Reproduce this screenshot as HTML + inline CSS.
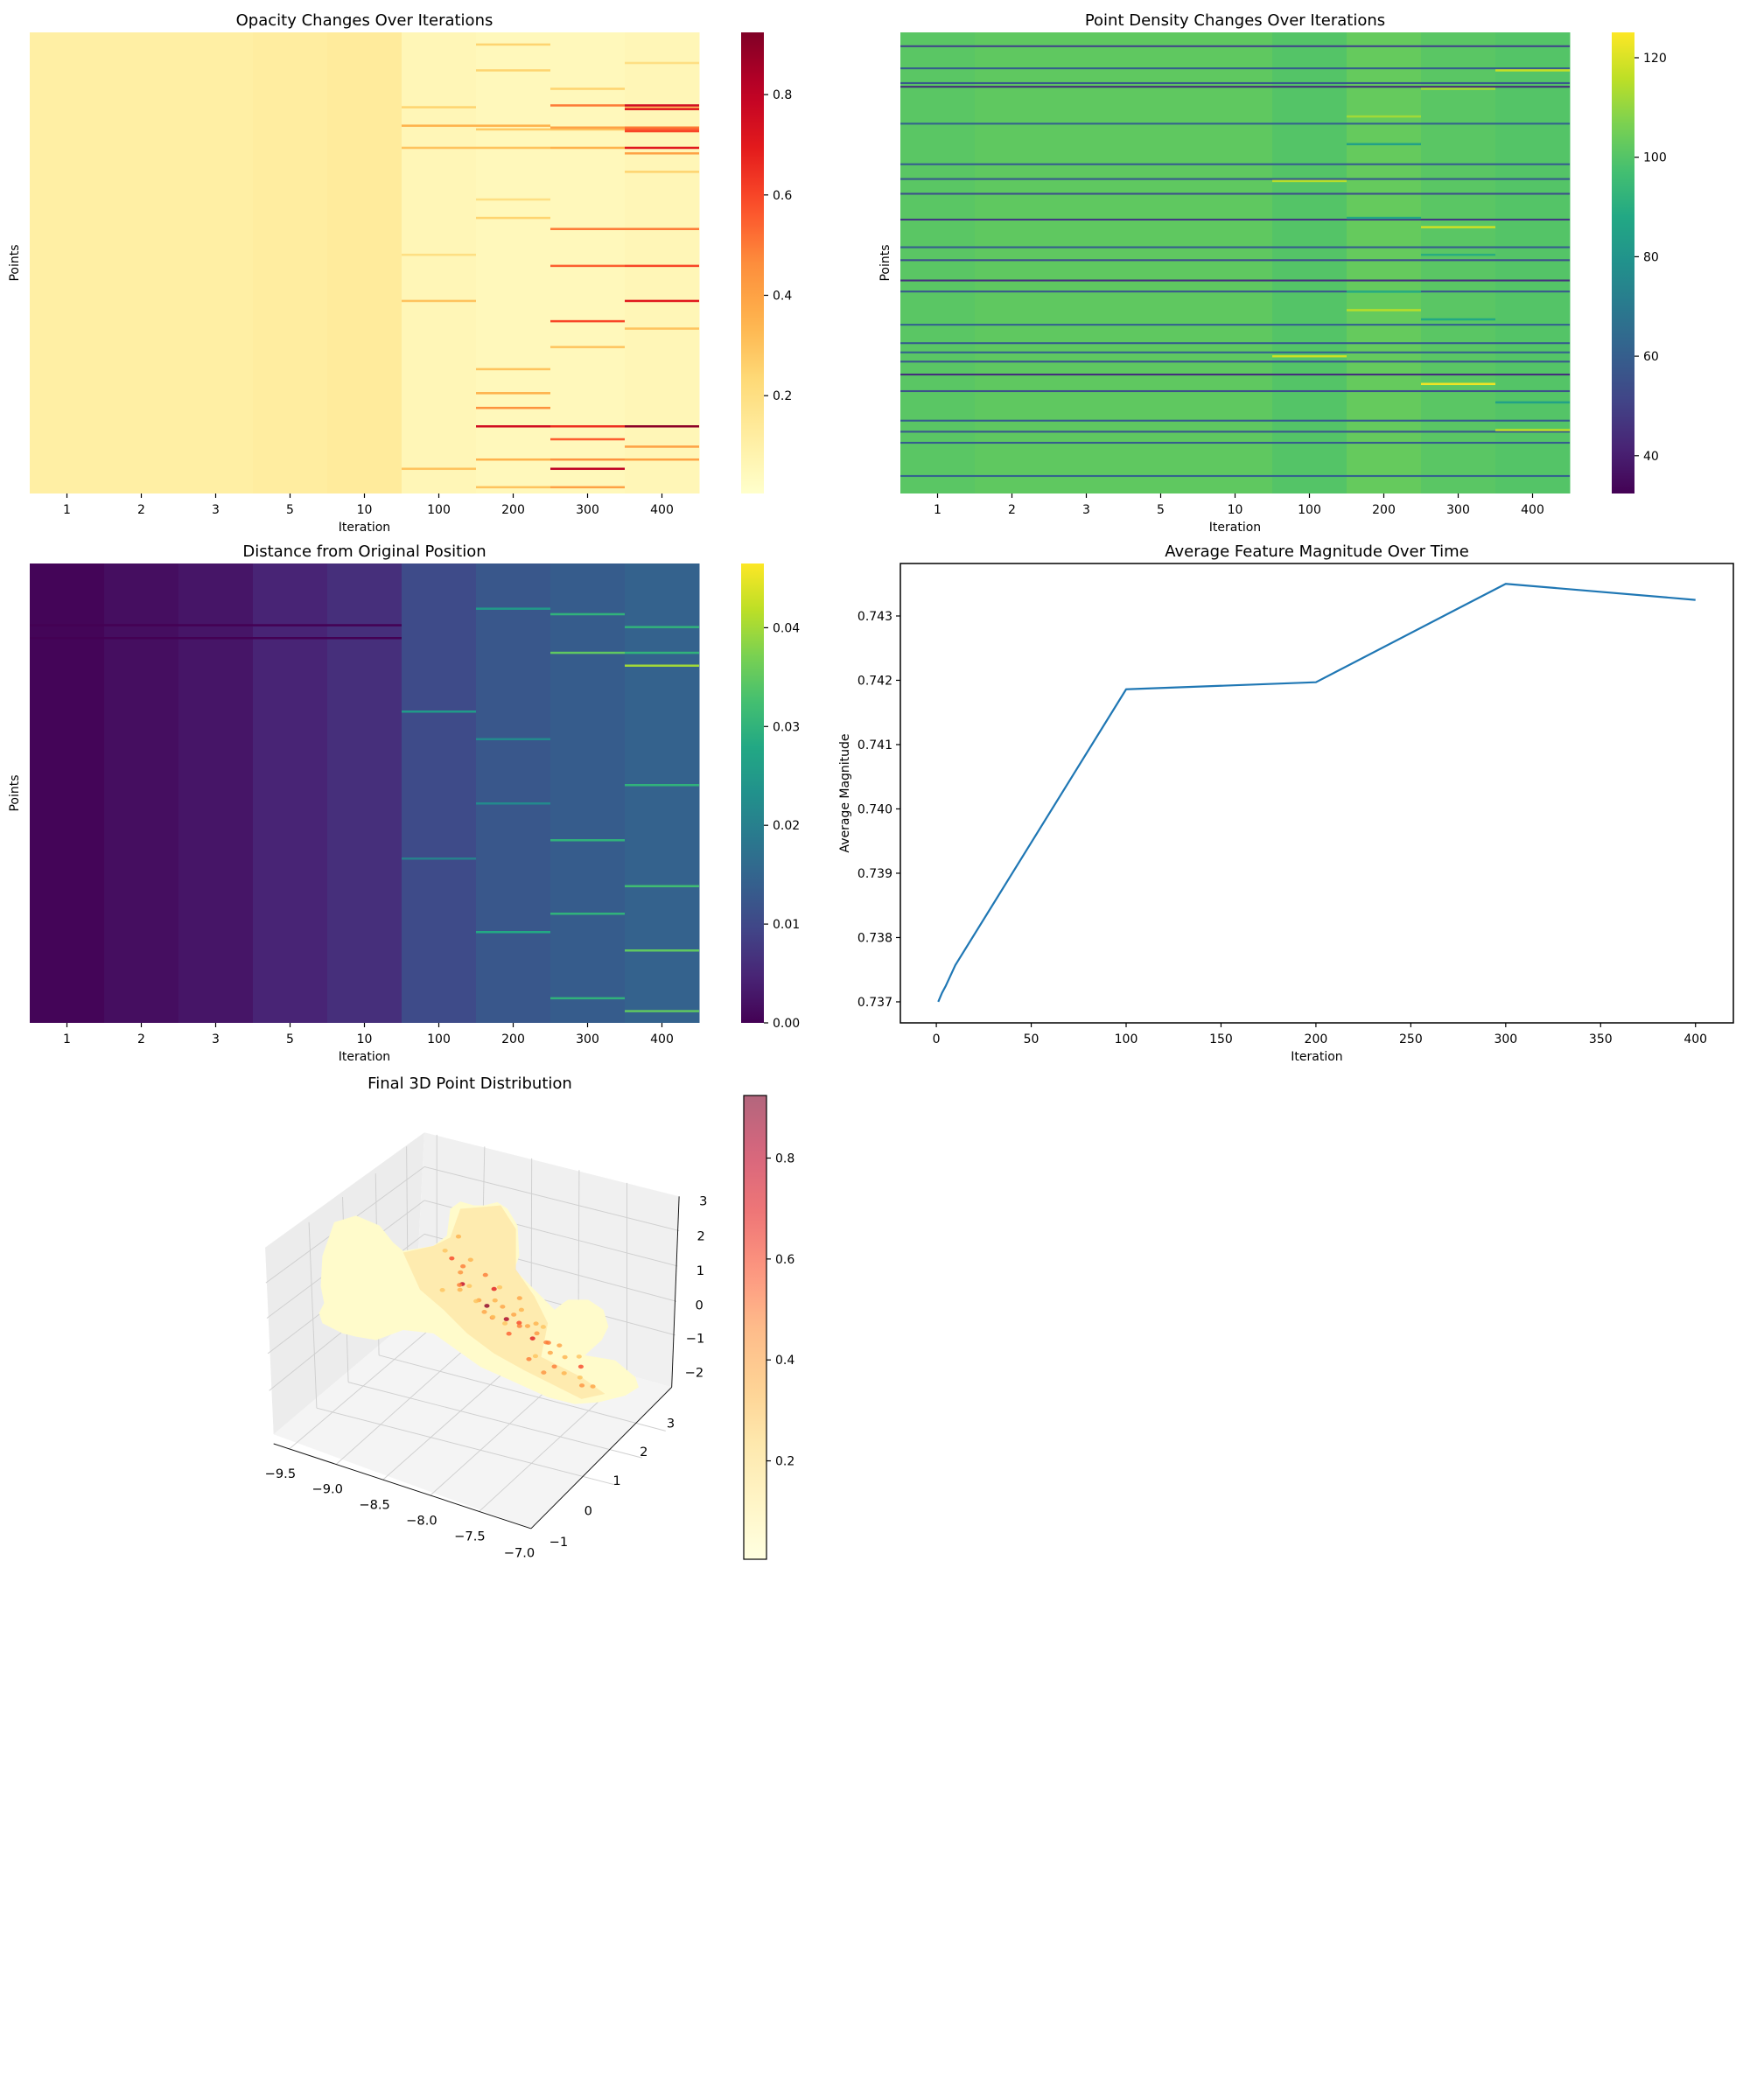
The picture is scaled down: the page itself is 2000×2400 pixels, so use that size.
<!DOCTYPE html>
<html><head><meta charset="utf-8"><style>
html,body{margin:0;padding:0;background:#fff}
svg{display:block}
text{font-family:"DejaVu Sans","Liberation Sans",sans-serif;fill:#000}
</style></head><body>
<svg id="fig" width="2000" height="2400" viewBox="0 0 2000 2400" xmlns="http://www.w3.org/2000/svg">
<defs>
<linearGradient id="gYlOrRd" x1="0" y1="1" x2="0" y2="0"></linearGradient>
<linearGradient id="gVir2" x1="0" y1="1" x2="0" y2="0"></linearGradient>
<linearGradient id="gVir3" x1="0" y1="1" x2="0" y2="0"></linearGradient>
<linearGradient id="gYlOrRdA" x1="0" y1="1" x2="0" y2="0"></linearGradient>
</defs>
<g id="hm1"></g>
<g id="hm2"></g>
<g id="hm3"></g>
<g id="line"></g>
<g id="p3d" transform="translate(280,1220) scale(0.3846)">
  <polygon points="533,193 60,535 85,1090 505,735" fill="#ececec"/>
  <polygon points="533,193 1290,383 1268,950 505,735" fill="#f0f0f0"/>
  <polygon points="85,1090 505,735 1268,950 850,1370" fill="#f4f4f4"/>
  <g stroke="#cfcfcf" stroke-width="2.5" fill="none">
    <line x1="190" y1="460" x2="213" y2="1012"/><line x1="290" y1="385" x2="307" y2="935"/><line x1="388" y1="315" x2="398" y2="855"/><line x1="480" y1="235" x2="485" y2="770"/>
    <line x1="213" y1="1012" x2="1100" y2="1240"/><line x1="307" y1="935" x2="1180" y2="1160"/><line x1="398" y1="855" x2="1250" y2="1080"/>
    <line x1="130" y1="1135" x2="570" y2="760"/><line x1="270" y1="1180" x2="700" y2="795"/><line x1="410" y1="1225" x2="850" y2="835"/><line x1="550" y1="1272" x2="990" y2="875"/><line x1="695" y1="1320" x2="1135" y2="915"/>
    <line x1="570" y1="200" x2="570" y2="760"/><line x1="712" y1="235" x2="700" y2="795"/><line x1="852" y1="270" x2="850" y2="835"/><line x1="993" y1="305" x2="990" y2="875"/><line x1="1135" y1="343" x2="1135" y2="915"/>
    <line x1="533" y1="295" x2="1290" y2="485"/><line x1="533" y1="395" x2="1285" y2="590"/><line x1="533" y1="495" x2="1282" y2="695"/><line x1="533" y1="595" x2="1278" y2="795"/>
    <line x1="533" y1="295" x2="62" y2="640"/><line x1="533" y1="395" x2="65" y2="745"/><line x1="533" y1="495" x2="68" y2="850"/><line x1="525" y1="595" x2="72" y2="960"/>
  </g>
  <g stroke="#111" stroke-width="2.5" fill="none">
    <line x1="85" y1="1118" x2="850" y2="1370"/><line x1="850" y1="1370" x2="1268" y2="950"/><line x1="1290" y1="383" x2="1268" y2="950"/>
  </g>
  <path fill="#fffbcb" d="M265,460 L330,440 L400,470 L440,520 L470,545 L560,530 L600,500 L610,420 L640,398 L680,410 L710,410 L750,400 L780,420 L810,470 L815,560 L800,600 L860,660 L920,720 L945,700 L960,690 L1020,690 L1065,720 L1080,770 L1060,810 L1010,855 L1100,870 L1160,920 L1170,950 L1130,975 L1050,995 L980,1000 L900,980 L790,930 L700,890 L630,840 L560,790 L470,780 L390,810 L330,800 L290,790 L230,760 L220,730 L235,700 L225,650 L230,560 Z"/>
  <path fill="#fde6a6" opacity="0.75" d="M470,550 L560,530 L610,505 L640,420 L760,410 L805,480 L805,600 L860,680 L900,760 L880,860 L1000,920 L1070,970 L1000,985 L930,950 L830,900 L740,850 L660,790 L590,720 L520,660 Z"/>
  <g id="dots3d"></g>
  <g font-size="38">
    <text x="105" y="1220" text-anchor="middle">−9.5</text><text x="245" y="1265" text-anchor="middle">−9.0</text><text x="385" y="1312" text-anchor="middle">−8.5</text><text x="525" y="1358" text-anchor="middle">−8.0</text><text x="668" y="1405" text-anchor="middle">−7.5</text><text x="815" y="1455" text-anchor="middle">−7.0</text>
    <text x="1265" y="1070" text-anchor="middle">3</text><text x="1185" y="1155" text-anchor="middle">2</text><text x="1105" y="1240" text-anchor="middle">1</text><text x="1020" y="1330" text-anchor="middle">0</text><text x="932" y="1422" text-anchor="middle">−1</text>
    <text x="1362" y="410" text-anchor="middle">3</text><text x="1355" y="513" text-anchor="middle">2</text><text x="1353" y="616" text-anchor="middle">1</text><text x="1350" y="719" text-anchor="middle">0</text><text x="1338" y="818" text-anchor="middle">−1</text><text x="1335" y="919" text-anchor="middle">−2</text>
  </g>
</g>
<text x="537" y="1244" font-size="18" text-anchor="middle">Final 3D Point Distribution</text>
<g id="cb4"></g>
</svg>
<script>
// ---------- data ----------
const iterLabels = ["1","2","3","5","10","100","200","300","400"];
const opacityBase = [0.11,0.11,0.11,0.12,0.13,0.06,0.05,0.05,0.06];
const opacityStripes = [[6,6,0.25],[16,8,0.2],[40,5,0.25],[40,8,0.3],[52,6,0.28],[52,7,0.3],[39,7,0.5],[39,8,0.75],[41,8,0.7],[50,5,0.35],[50,6,0.35],[51,7,0.4],[51,8,0.5],[52,8,0.55],[53,8,0.6],[62,5,0.3],[62,6,0.3],[62,7,0.35],[62,8,0.7],[65,8,0.4],[100,6,0.25],[106,7,0.5],[106,8,0.5],[126,7,0.55],[126,8,0.6],[145,5,0.3],[145,8,0.7],[156,7,0.6],[182,6,0.3],[195,6,0.35],[203,6,0.45],[213,6,0.75],[213,7,0.65],[213,8,0.9],[220,7,0.55],[224,8,0.4],[231,6,0.35],[231,7,0.45],[231,8,0.4],[236,7,0.8],[236,5,0.3],[246,6,0.3],[246,7,0.4],[120,5,0.2],[170,7,0.3],[75,8,0.25],[90,6,0.2],[160,8,0.3],[20,6,0.25],[30,7,0.25]];
const densityBase = [101,102,102,102,102,100,103,101,100];
const densityDarkRows = [7,19,27,29,49,71,79,87,101,116,123,134,140,158,168,173,178,185,194,210,216,222,240];
const densityDarkValue = [52,60,58,45,62,60,58,55,48,60,55,46,58,62,60,62,58,45,55,60,58,60,62];
const densityStripes = [[20,8,117],[45,6,112],[60,6,85],[80,5,115],[100,6,88],[105,7,118],[150,6,115],[155,7,88],[175,5,118],[190,7,123],[200,8,85],[215,8,116],[30,7,112],[120,7,90],[140,6,90]];
const distBase = [0.0005,0.0017,0.0027,0.0047,0.0062,0.0105,0.0125,0.0135,0.0145];
const distStripes = [[33,0,0.0],[33,1,0.0],[33,2,0.0],[33,3,0.0],[33,4,0.0],[40,0,0.0],[40,1,0.0],[40,2,0.0],[40,3,0.0],[40,4,0.0],[24,6,0.025],[27,7,0.03],[34,8,0.03],[48,7,0.035],[48,8,0.03],[55,8,0.04],[80,5,0.025],[95,6,0.022],[120,8,0.03],[130,6,0.022],[150,7,0.03],[175,8,0.032],[190,7,0.03],[210,8,0.035],[236,7,0.03],[243,8,0.035],[160,5,0.02],[200,6,0.028]];
const lineIters = [1,2,3,5,10,100,200,300,400];
const lineValues = [0.73700,0.73707,0.73714,0.73725,0.73757,0.74186,0.74197,0.74350,0.74325];
const lineXTicks = [0,50,100,150,200,250,300,350,400];
const lineYTicks = [0.737,0.738,0.739,0.740,0.741,0.742,0.743];
// 3D highlighted points (x, y, z, opacity)
const p3x = [-8.45,-8.40,-8.30,-8.35,-8.20,-8.15,-8.05,-8.10,-7.95,-7.90,-7.85,-7.80,-7.70,-7.65,-7.60,-7.50,-7.45,-7.35,-7.30,-7.20,-7.10,-7.05,-8.25,-8.00,-7.75,-7.55,-7.40,-8.50,-7.95,-7.62,-8.40,-8.28,-8.12,-8.00,-7.88,-7.72,-7.58,-7.42,-7.28,-8.55,-8.35,-8.18,-7.98,-7.82,-7.68,-7.48,-7.25,-7.15,-8.05,-7.90];
const p3y = [1.0,1.2,0.8,1.0,1.3,0.9,1.1,1.0,0.7,1.0,1.3,1.1,0.8,1.2,0.9,1.1,1.3,0.8,1.0,1.2,0.9,1.1,0.6,0.6,0.6,0.6,0.6,1.4,1.4,1.4,0.5,0.7,1.5,1.2,0.5,1.4,1.2,0.9,1.4,1.1,1.3,0.7,0.9,0.7,1.0,0.6,0.8,1.0,0.5,1.5];
const p3z = [2.05,1.70,1.95,1.40,1.55,1.20,1.45,1.00,1.05,0.80,1.20,0.70,0.95,0.45,0.60,0.40,0.20,0.10,0.25,-0.10,-0.30,-0.45,1.80,1.25,0.85,0.30,0.05,2.30,0.55,0.05,1.60,1.55,1.10,0.90,1.30,0.50,0.70,0.35,-0.05,2.10,1.85,1.75,1.35,1.00,0.80,0.45,0.00,-0.20,1.60,0.65];
const p3o = [0.6,0.5,0.45,0.8,0.5,0.4,0.7,0.9,0.5,0.85,0.4,0.6,0.5,0.45,0.7,0.5,0.4,0.5,0.35,0.6,0.45,0.4,0.5,0.4,0.55,0.5,0.45,0.35,0.4,0.5,0.3,0.35,0.3,0.4,0.3,0.35,0.3,0.4,0.3,0.3,0.35,0.3,0.35,0.3,0.4,0.3,0.35,0.3,0.3,0.35];
const cbOpTicks = [0.2,0.4,0.6,0.8];
const cbDenTicks = [40,60,80,100,120];
const cbDistTicks = [0.00,0.01,0.02,0.03,0.04];

// ---------- helpers ----------
const NS="http://www.w3.org/2000/svg";
function mk(tag,attrs,parent){const e=document.createElementNS(NS,tag);for(const k in attrs)e.setAttribute(k,attrs[k]);if(parent)parent.appendChild(e);return e;}
function hex(h){return [parseInt(h.slice(1,3),16),parseInt(h.slice(3,5),16),parseInt(h.slice(5,7),16)];}
const YLORRD=["#ffffcc","#ffeda0","#fed976","#feb24c","#fd8d3c","#fc4e2a","#e31a1c","#bd0026","#800026"].map(hex);
const VIRIDIS=["#440154","#482475","#414487","#355f8d","#2a788e","#21918c","#22a884","#44bf70","#7ad151","#bddf26","#fde725"].map(hex);
function cmap(stops,t){t=Math.max(0,Math.min(1,t));const n=stops.length-1;const f=t*n;const i=Math.min(n-1,Math.floor(f));const r=f-i;const a=stops[i],b=stops[i+1];
  return "rgb("+[0,1,2].map(k=>Math.round(a[k]+(b[k]-a[k])*r)).join(",")+")";}
function grad(id,stops,alpha){const g=document.getElementById(id);for(let i=0;i<=20;i++){const t=i/20;let c=cmap(stops,t);
  if(alpha){const m=c.match(/\d+/g).map(Number).map(v=>Math.round(v*alpha+255*(1-alpha)));c="rgb("+m.join(",")+")";}
  mk("stop",{offset:t,"stop-color":c},g);}}
grad("gYlOrRd",YLORRD);grad("gVir2",VIRIDIS);grad("gVir3",VIRIDIS);grad("gYlOrRdA",YLORRD,0.6);

const ROWS=250;
function heatmap(gid,box,base,stripes,stops,vmin,vmax,title,darkRows,darkVals){
  const g=document.getElementById(gid);
  const cw=(box.x1-box.x0)/base.length, rh=(box.y1-box.y0)/ROWS;
  const sx=c=>box.x0+c*cw, sy=r=>box.y0+r*rh;
  base.forEach((v,c)=>{const r=mk("rect",{x:sx(c),y:box.y0,width:cw+0.5,height:box.y1-box.y0,fill:cmap(stops,(v-vmin)/(vmax-vmin))},g);
    
    });
  if(darkRows){darkRows.forEach((row,i)=>{const r=mk("rect",{x:box.x0,y:sy(row),width:box.x1-box.x0,height:rh,fill:cmap(stops,(darkVals[i]-vmin)/(vmax-vmin))},g);
    
    });}
  stripes.forEach(s=>{const r=mk("rect",{x:sx(s[1]),y:sy(s[0]),width:cw,height:rh*1.2,fill:cmap(stops,(s[2]-vmin)/(vmax-vmin))},g);
    
    });
  iterLabels.forEach((l,c)=>{const cx=sx(c)+cw/2;mk("line",{x1:cx,x2:cx,y1:box.y1,y2:box.y1+5,stroke:"#000","stroke-width":1.2},g);
    const t=mk("text",{x:cx,y:box.y1+23,"font-size":14,"text-anchor":"middle"},g);t.textContent=l;
    
    });
  const xl=mk("text",{x:(box.x0+box.x1)/2,y:box.y1+43,"font-size":14,"text-anchor":"middle"},g);xl.textContent="Iteration";
  
  
  const yl=mk("text",{x:0,y:0,"font-size":14,"text-anchor":"middle",transform:"translate("+(box.x0-13)+","+((box.y0+box.y1)/2)+") rotate(-90)"},g);yl.textContent="Points";
  
  
  const tt=mk("text",{x:(box.x0+box.x1)/2,y:box.y0-8,"font-size":18,"text-anchor":"middle"},g);tt.textContent=title;
  
  
}
function colorbar(g,box,gradId,vmin,vmax,ticks,fmt,border){
  g=typeof g==="string"?document.getElementById(g):g;
  const cb=mk("rect",{x:box.x0,y:box.y0,width:box.x1-box.x0,height:box.y1-box.y0,fill:"url(#"+gradId+")"},g);
  if(border){cb.setAttribute("stroke","#000");cb.setAttribute("stroke-width","1.2");}
  
  
  const sy=v=>box.y1-(v-vmin)/(vmax-vmin)*(box.y1-box.y0);
  ticks.forEach(v=>{const y=sy(v);mk("line",{x1:box.x1,x2:box.x1+5,y1:y,y2:y,stroke:"#000","stroke-width":1.2},g);
    const t=mk("text",{x:box.x1+10,y:y+5,"font-size":14},g);t.textContent=fmt(v);
    
    });
}

heatmap("hm1",{x0:34,x1:799,y0:37,y1:564},opacityBase,opacityStripes,YLORRD,0.005,0.924,"Opacity Changes Over Iterations");
colorbar("hm1",{x0:847,x1:873,y0:37,y1:564},"gYlOrRd",0.005,0.924,cbOpTicks,v=>v.toFixed(1));
heatmap("hm2",{x0:1029,x1:1794,y0:37,y1:564},densityBase,densityStripes,VIRIDIS,32.4,125.1,"Point Density Changes Over Iterations",densityDarkRows,densityDarkValue);
colorbar("hm2",{x0:1842,x1:1868,y0:37,y1:564},"gVir2",32.4,125.1,cbDenTicks,v=>String(v));
heatmap("hm3",{x0:34,x1:799,y0:644,y1:1169},distBase,distStripes,VIRIDIS,0,0.0465,"Distance from Original Position");
colorbar("hm3",{x0:847,x1:873,y0:644,y1:1169},"gVir3",0,0.0465,cbDistTicks,v=>v.toFixed(2));
colorbar("cb4",{x0:850,x1:876,y0:1252,y1:1782},"gYlOrRdA",0.005,0.924,cbOpTicks,v=>v.toFixed(1),true);

// ---------- line chart ----------
(function(){
  const g=document.getElementById("line");
  const L=1029,R=1981,T=644,B=1169;
  const xmin=-18.95,xmax=419.95,ymin=0.736673,ymax=0.743816;
  const sx=v=>L+(v-xmin)/(xmax-xmin)*(R-L), sy=v=>B-(v-ymin)/(ymax-ymin)*(B-T);
  const fr=mk("rect",{x:L,y:T,width:R-L,height:B-T,fill:"none",stroke:"#000","stroke-width":1.5},g);
  
  
  lineXTicks.forEach(v=>{const x=sx(v);mk("line",{x1:x,x2:x,y1:B,y2:B+5,stroke:"#000","stroke-width":1.2},g);
    const t=mk("text",{x:x,y:B+23,"font-size":14,"text-anchor":"middle"},g);t.textContent=v;
    
    });
  lineYTicks.forEach(v=>{const y=sy(v);mk("line",{x1:L-5,x2:L,y1:y,y2:y,stroke:"#000","stroke-width":1.2},g);
    const t=mk("text",{x:L-9,y:y+5,"font-size":14,"text-anchor":"end"},g);t.textContent=v.toFixed(3);
    
    });
  const pl=mk("polyline",{points:lineIters.map((v,i)=>sx(v)+","+sy(lineValues[i])).join(" "),fill:"none",stroke:"#1f77b4","stroke-width":2.2,"stroke-linejoin":"round"},g);
  
  
  const xt=mk("text",{x:(L+R)/2,y:B+43,"font-size":14,"text-anchor":"middle"},g);xt.textContent="Iteration";
  
  
  const yt=mk("text",{x:0,y:0,"font-size":14,"text-anchor":"middle",transform:"translate(970,"+((T+B)/2)+") rotate(-90)"},g);yt.textContent="Average Magnitude";
  
  
  const tt=mk("text",{x:(L+R)/2,y:T-8,"font-size":18,"text-anchor":"middle"},g);tt.textContent="Average Feature Magnitude Over Time";
  
  
})();

// ---------- 3D points ----------
(function(){
  const g=document.getElementById("dots3d");
  const P=(x,y,z)=>[130+(x+9.5)*286+(y+1.3)*88+(z+2.5)*(-4), 1135+(x+9.5)*94+(y+1.3)*(-86)+(z+2.5)*(-103)];
  p3x.forEach((x,i)=>{const p=P(x,p3y[i],p3z[i]);
    const c=mk("ellipse",{cx:p[0],cy:p[1],rx:8,ry:6,fill:cmap(YLORRD,(p3o[i]-0.005)/0.919),opacity:0.8},g);
    
    });
})();
</script>
</body></html>
